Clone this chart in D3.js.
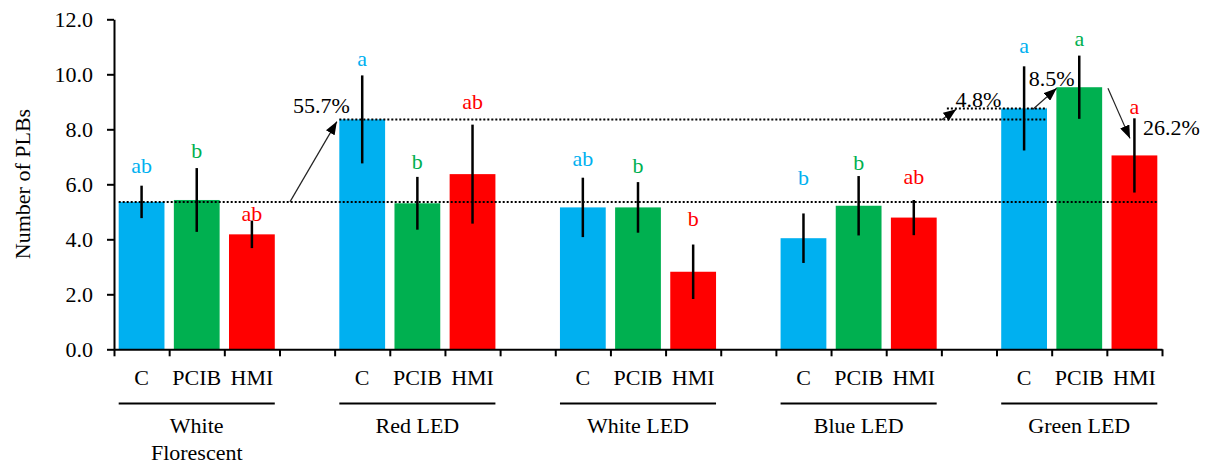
<!DOCTYPE html>
<html>
<head>
<meta charset="utf-8">
<script src="https://cdn.jsdelivr.net/npm/d3@7"></script>
<style>
  body { margin: 0; background: #fff; }
  svg text { font-family: "Liberation Serif", "DejaVu Serif", serif !important; }
</style>
</head>
<body>
<svg id="chart" width="1214" height="467" font-family="Liberation Serif, serif"></svg>
<script>
// light sources and treatments
const groups = [["White", "Florescent"], ["Red LED"], ["White LED"], ["Blue LED"], ["Green LED"]];
const treatments = ["C", "PCIB", "HMI"];
const colors = ["#00B0F0", "#00B050", "#FF0000"];

// means per treatment, one value per light source
const meanC    = [5.36, 8.36, 5.16, 4.04, 8.76];
const meanPCIB = [5.43, 5.31, 5.16, 5.22, 9.53];
const meanHMI  = [4.18, 6.37, 2.82, 4.79, 7.05];

// error bar half width
const errC    = [0.59, 1.60, 1.08, 0.90, 1.53];
const errPCIB = [1.16, 0.96, 0.92, 1.08, 1.15];
const errHMI  = [0.50, 1.80, 0.99, 0.64, 1.35];

// significance letters and the level (in PLBs) they sit at
const lettersC    = ["ab", "a", "ab", "b", "a"];
const lettersPCIB = ["b", "b", "b", "b", "a"];
const lettersHMI  = ["ab", "ab", "b", "ab", "a"];
const letterAtC    = [6.69, 10.59, 6.96, 6.24, 11.07];
const letterAtPCIB = [7.25, 6.82, 6.70, 6.80, 11.32];
const letterAtHMI  = [4.96, 9.03, 4.76, 6.28, 8.82];

const yTicks = [0, 2, 4, 6, 8, 10, 12];

// percent change notes: text, arrow start/end and text spot as [slot, PLBs]
const pctText  = ["55.7%", "4.8%", "8.5%", "26.2%"];
const pctFrom  = [[3.19, 5.36], [15.00, 8.34], [16.66, 8.73], [18.02, 9.49]];
const pctTo    = [[4.04, 8.28], [15.27, 8.73], [17.09, 9.49], [18.42, 7.67]];
const pctLabel = [[3.76, 8.88], [15.67, 9.10], [17.00, 9.87], [19.17, 8.09]];

const svg = d3.select("#chart");
const plotLeft = 114, plotRight = 1162, plotTop = 19.3, plotBottom = 349.3;
const serif = "Liberation Serif, DejaVu Serif, serif";

let means = [meanC, meanPCIB, meanHMI];
let errs = [errC, errPCIB, errHMI];
let letters = [lettersC, lettersPCIB, lettersHMI];
let letterAt = [letterAtC, letterAtPCIB, letterAtHMI];

// one slot per bar, an empty slot between light sources
let slots = [];
let rows = [];
groups.forEach((g, gi) => {
    treatments.forEach((t, ti) => {
        let key = gi + "-" + ti;
        slots.push(key);
        rows.push({
            key: key, gi: gi, ti: ti, treat: t,
            mean: means[ti][gi], err: errs[ti][gi],
            letter: letters[ti][gi], letterAt: letterAt[ti][gi],
            color: colors[ti]
        });
    });
    if (gi < groups.length - 1) slots.push("gap" + gi);
});

const x = d3.scaleBand().domain(slots).range([plotLeft, plotRight])
    .paddingInner(0.17).paddingOuter(0.085);
const slotPos = d3.scaleLinear().domain([0, slots.length]).range([plotLeft, plotRight]);
const y = d3.scaleLinear().domain([0, 12]).range([plotBottom, plotTop]);

// bars
svg.append("g").selectAll("rect").data(rows).join("rect")
    .attr("x", d => x(d.key))
    .attr("y", d => y(d.mean))
    .attr("width", x.bandwidth())
    .attr("height", d => y(0) - y(d.mean))
    .attr("fill", d => d.color);

// dotted reference lines
function rowOf(gi, ti) { return rows.find(r => r.gi === gi && r.ti === ti); }
let refLines = [
    [rowOf(0, 0), rowOf(0, 0), rowOf(4, 2)],
    [rowOf(1, 0), rowOf(1, 0), rowOf(4, 0)],
    [rowOf(4, 0), null, rowOf(4, 0)]
];
svg.append("g").selectAll("line").data(refLines).join("line")
    .attr("x1", d => d[1] ? x(d[1].key) : slotPos(15.1))
    .attr("x2", d => x(d[2].key) + x.bandwidth())
    .attr("y1", d => y(d[0].mean))
    .attr("y2", d => y(d[0].mean))
    .attr("stroke", "#000")
    .attr("stroke-width", 2)
    .attr("stroke-dasharray", "2,2");

// error bars
svg.append("g").selectAll("line").data(rows).join("line")
    .attr("x1", d => x(d.key) + x.bandwidth() / 2)
    .attr("x2", d => x(d.key) + x.bandwidth() / 2)
    .attr("y1", d => y(d.mean + d.err))
    .attr("y2", d => y(d.mean - d.err))
    .attr("stroke", "#000")
    .attr("stroke-width", 2.5);

// letters
svg.append("g").selectAll("text").data(rows).join("text")
    .attr("x", d => x(d.key) + x.bandwidth() / 2)
    .attr("y", d => y(d.letterAt))
    .attr("dy", "0.35em")
    .attr("text-anchor", "middle")
    .attr("font-family", serif)
    .attr("font-size", 22)
    .attr("fill", d => d.color)
    .text(d => d.letter);

// y axis
let yAxis = svg.append("g")
    .attr("transform", "translate(" + plotLeft + ",0)")
    .call(d3.axisLeft(y).tickValues(yTicks).tickFormat(d3.format(".1f"))
        .tickSize(7).tickSizeOuter(0).tickPadding(14));

// x axis, ticks on every slot boundary
let xAxis = svg.append("g")
    .attr("transform", "translate(0," + plotBottom + ")")
    .call(d3.axisBottom(slotPos).tickValues(d3.range(0, slots.length + 1))
        .tickFormat("").tickSize(7).tickSizeOuter(0));

[yAxis, xAxis].forEach(a => {
    a.attr("font-family", serif).attr("font-size", 22);
    a.select(".domain").attr("stroke", "#000").attr("stroke-width", 2);
    a.selectAll(".tick line").attr("stroke", "#000").attr("stroke-width", 2);
    a.selectAll("text").attr("fill", "#000");
});

// treatment labels
svg.append("g").selectAll("text").data(rows).join("text")
    .attr("x", d => x(d.key) + x.bandwidth() / 2)
    .attr("y", 377)
    .attr("dy", "0.35em")
    .attr("text-anchor", "middle")
    .attr("font-family", serif)
    .attr("font-size", 22)
    .text(d => d.treat);

// group underline + name
let grp = svg.append("g").selectAll("g").data(groups).join("g");
grp.append("line")
    .attr("x1", (d, i) => x(i + "-0"))
    .attr("x2", (d, i) => x(i + "-2") + x.bandwidth())
    .attr("y1", 403.5).attr("y2", 403.5)
    .attr("stroke", "#000").attr("stroke-width", 2);
grp.append("text")
    .attr("text-anchor", "middle")
    .attr("font-family", serif)
    .attr("font-size", 22)
    .selectAll("tspan").data((d, i) => d.map(s => ({ s: s, i: i }))).join("tspan")
    .attr("x", d => x(d.i + "-1") + x.bandwidth() / 2)
    .attr("y", (d, j) => 425 + j * 27.5)
    .attr("dy", "0.35em")
    .text(d => d.s);

// y title
svg.append("text")
    .attr("transform", "translate(22,184) rotate(-90)")
    .attr("text-anchor", "middle")
    .attr("dy", "0.35em")
    .attr("font-family", serif)
    .attr("font-size", 22)
    .text("Number of PLBs");

// percent change arrows
svg.append("defs").append("marker")
    .attr("id", "head")
    .attr("markerUnits", "userSpaceOnUse")
    .attr("viewBox", "0 0 13 10")
    .attr("refX", 13).attr("refY", 5)
    .attr("markerWidth", 13).attr("markerHeight", 10)
    .attr("orient", "auto")
    .append("path").attr("d", "M0,0L13,5L0,10Z").attr("fill", "#000");

svg.append("g").selectAll("line").data(pctText).join("line")
    .attr("x1", (d, i) => slotPos(pctFrom[i][0]))
    .attr("y1", (d, i) => y(pctFrom[i][1]))
    .attr("x2", (d, i) => slotPos(pctTo[i][0]))
    .attr("y2", (d, i) => y(pctTo[i][1]))
    .attr("stroke", "#222")
    .attr("stroke-width", 1.2)
    .attr("marker-end", "url(#head)");

svg.append("g").selectAll("text").data(pctText).join("text")
    .attr("x", (d, i) => slotPos(pctLabel[i][0]))
    .attr("y", (d, i) => y(pctLabel[i][1]))
    .attr("dy", "0.35em")
    .attr("text-anchor", "middle")
    .attr("font-family", serif)
    .attr("font-size", 22)
    .attr("fill", "#000")
    .text(d => d);
</script>
</body>
</html>
